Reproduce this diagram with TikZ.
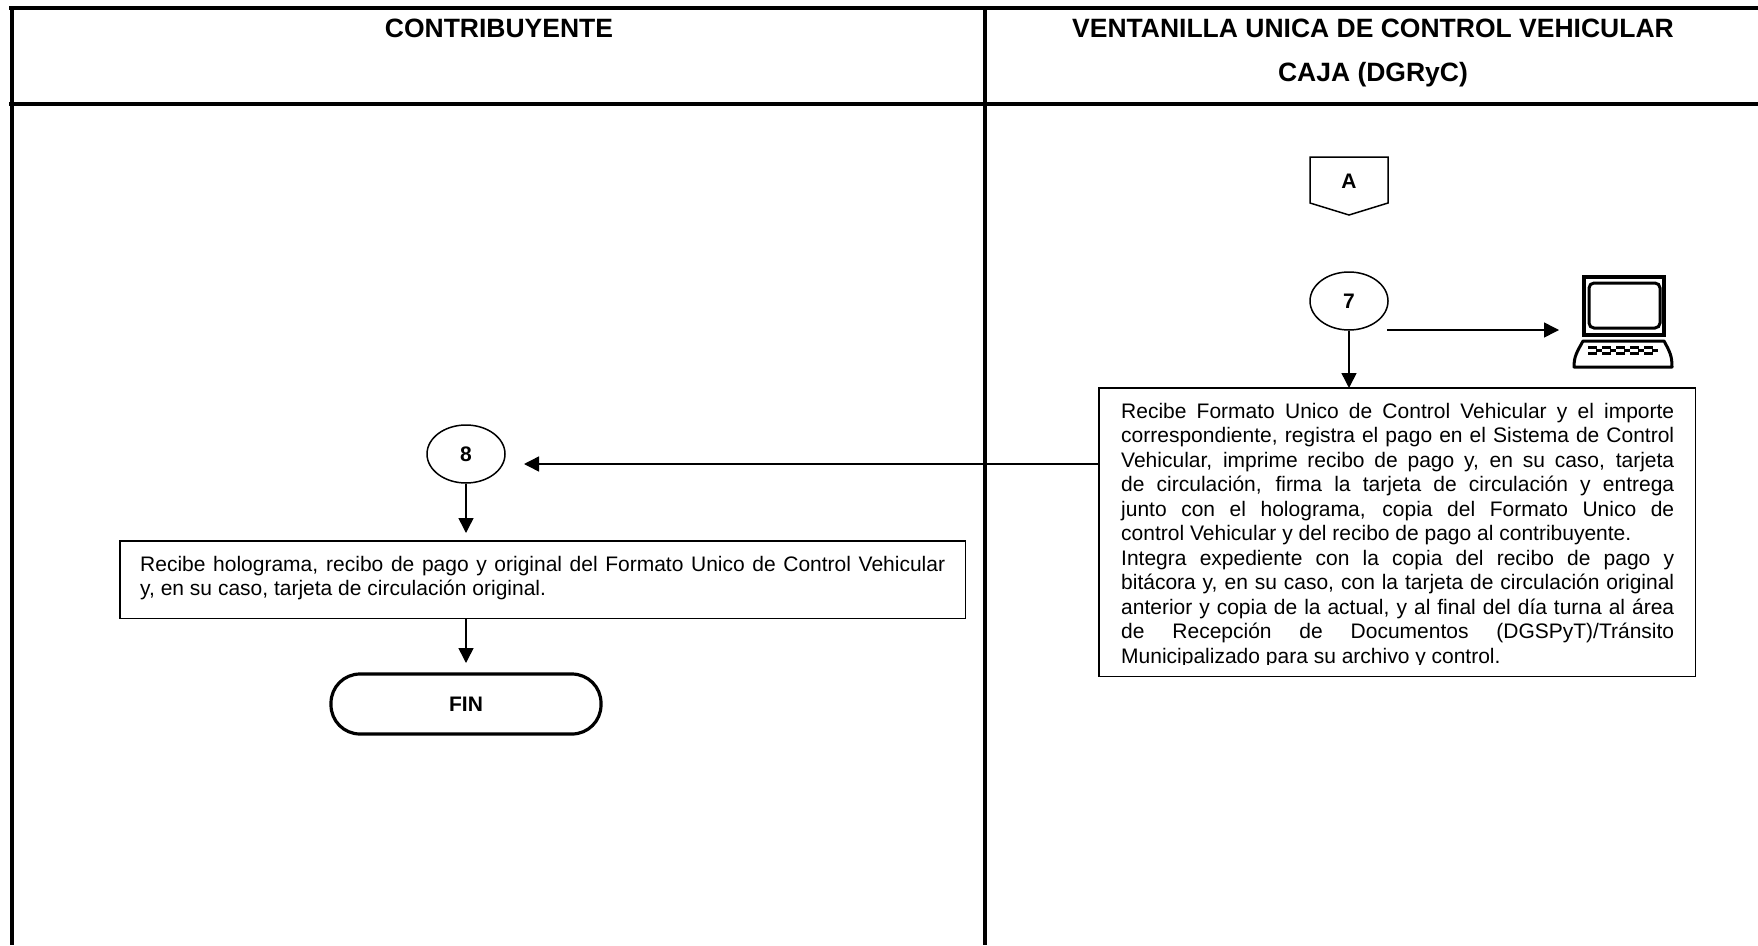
\documentclass[tikz,border=0pt]{standalone}
\usepackage{fontspec}
\setmainfont{Liberation Sans}
\usetikzlibrary{arrows.meta,shapes.geometric}
\tikzset{
  x=1pt,y=-1pt,
  frameline/.style={line width=4pt,line cap=butt},
  flowoval/.style={draw,line width=1.5pt,ellipse,inner sep=0pt,minimum width=78pt,minimum height=58pt,font=\fontsize{21}{24}\selectfont\bfseries},
  flowarrow/.style={line width=1.5pt,-{Triangle[length=15pt,width=15pt]}},
  headtext/.style={font=\fontsize{26.5}{30}\selectfont\bfseries,inner sep=0pt,anchor=base},
  bodytext/.style={font=\fontsize{21}{24.5}\selectfont,inner sep=0pt,anchor=north west,align=justify}
}
\begin{document}
\begin{tikzpicture}
\useasboundingbox (0,0) rectangle (1758,945);
\fill[white] (0,0) rectangle (1758,945);
% frame
\draw[frameline] (9,8) -- (1758,8);
\draw[frameline] (9,104) -- (1758,104);
\draw[frameline] (12,6) -- (12,945);
\draw[frameline] (985,6) -- (985,945);
% headers
\node[headtext] (h1) at (499,37) {CONTRIBUYENTE};
\node[headtext] (h2) at (1373,37) {VENTANILLA UNICA DE CONTROL VEHICULAR};
\node[headtext] (h3) at (1373,81) {CAJA (DGRyC)};
% off-page connector A
\draw[line width=1.5pt,line join=miter] (1310,157) -- (1388,157) -- (1388,203) -- (1349,215) -- (1310,203) -- cycle;
\node[font=\fontsize{21}{24}\selectfont\bfseries,inner sep=0pt] (a) at (1349,181) {A};
% ovals
\node[flowoval] (n7) at (1349,301) {7};
\node[flowoval] (n8) at (466,454) {8};
% computer
\coordinate (pc) at (1559,330);
\draw[line width=4pt] (1584,277) rectangle (1664,335);
\draw[line width=3pt,rounded corners=5pt] (1589,283) rectangle (1660,328);
\draw[line width=3pt,line join=round] (1583,341) -- (1664,341) .. controls (1670,352) and (1672,356) .. (1672,367) -- (1574,367) .. controls (1574,356) and (1577,352) .. (1583,341) -- cycle;
\foreach \xx in {1588,1602,1616,1630,1644}{
  \fill (\xx,346) rectangle ++(9,3);
  \fill (\xx,352) rectangle ++(9,3);
  \fill (\xx+8,349) rectangle ++(6,3);
}
% box 2
\node[inner sep=0pt,minimum width=596pt,minimum height=288pt,anchor=north west] (box2) at (1099,388) {};
\node[bodytext,text width=553pt] (t2) at (1121,403) {Recibe Formato Unico de Control Vehicular y el importe\linebreak correspondiente, registra el pago en el Sistema de Control\linebreak Vehicular, imprime recibo de pago y, en su caso, tarjeta\linebreak de circulación, firma la tarjeta de circulación y entrega\linebreak junto con el holograma, copia del Formato Unico de\linebreak control Vehicular y del recibo de pago al contribuyente.\\ Integra expediente con la copia del recibo de pago y\linebreak bitácora y, en su caso, con la tarjeta de circulación original\linebreak anterior y copia de la actual, y al final del día turna al área\linebreak de Recepción de Documentos (DGSPyT)/Tránsito\linebreak Municipalizado para su archivo y control.};
\fill[white] (1105,665) rectangle (1690,673);
\draw[line width=1.5pt] (box2.north west) rectangle (box2.south east);
% box 3
\node[inner sep=0pt,minimum width=845pt,minimum height=77pt,anchor=north west] (box3) at (120,541) {};
\node[bodytext,text width=805pt] (t3) at (140,556) {Recibe holograma, recibo de pago y original del Formato Unico de Control Vehicular\linebreak y, en su caso, tarjeta de circulación original.};
\draw[line width=1.5pt] (box3.north west) rectangle (box3.south east);
% FIN
\node[draw,line width=3.2pt,inner sep=0pt,minimum width=270pt,minimum height=60pt,rounded corners=29pt,font=\fontsize{21}{24}\selectfont\bfseries] (fin) at (466,704) {FIN};
% connectors
\coordinate (a1) at (1387,330);
\coordinate (b8) at (524,464);
\coordinate (c1) at (466,533);
\coordinate (c2) at (466,663);
\draw[flowarrow] (n7.south) -- (box2.north -| n7.south);
\draw[flowarrow] (a1) -- (pc);
\draw[flowarrow] (box2.west |- b8) -- (b8);
\draw[flowarrow] (n8.south) -- (c1);
\draw[flowarrow] (box3.south -| c2) -- (c2);
\end{tikzpicture}
\end{document}
